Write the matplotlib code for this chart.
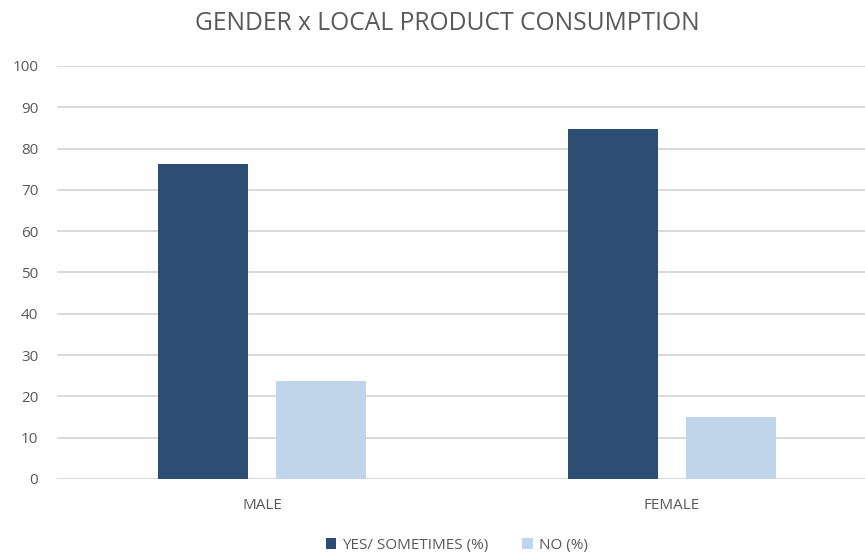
import matplotlib
matplotlib.use("Agg")
import matplotlib.pyplot as plt
import numpy as np

categories = ["MALE", "FEMALE"]
yes_sometimes = [76.3, 84.8]
no_values = [23.7, 15.0]
series_labels = ["YES/ SOMETIMES (%)", "NO (%)"]
title = "GENDER x LOCAL PRODUCT CONSUMPTION"

plt.rcParams["font.family"] = ["Open Sans", "DejaVu Sans"]
text_gray = "#595959"

fig = plt.figure(figsize=(8.65, 5.54), dpi=100)
ax = fig.add_axes([0.0659, 0.1354, 0.948, 0.7455])

x = np.arange(len(categories))
width = 0.22
offset = 0.143
ax.bar(x - offset, yes_sometimes, width, color="#2c4e74", label=series_labels[0], zorder=3)
ax.bar(x + offset, no_values, width, color="#c1d5ea", label=series_labels[1], zorder=3)

ax.set_xlim(-0.5, 1.5)
ax.set_ylim(0, 100)
ax.set_yticks(np.arange(0, 101, 10))
ax.set_xticks(x)
ax.set_xticklabels(categories)
ax.grid(axis="y", color="#d9d9d9", linewidth=1.4, zorder=0)
ax.tick_params(axis="both", length=0, labelsize=11, colors=text_gray)
ax.tick_params(axis="y", pad=13.5)
ax.tick_params(axis="x", pad=14)
for side in ["top", "right", "left", "bottom"]:
    ax.spines[side].set_visible(False)

fig.text(0.517, 0.957, title, ha="center", va="center", fontsize=17.7, color=text_gray)

leg = fig.legend(
    loc="center", bbox_to_anchor=(0.528, 0.015), ncol=2, frameon=False,
    fontsize=11, handlelength=0.7, handleheight=0.7, handletextpad=0.4,
    columnspacing=2.2, labelcolor=text_gray,
)

fig.savefig("out.png", dpi=100)
